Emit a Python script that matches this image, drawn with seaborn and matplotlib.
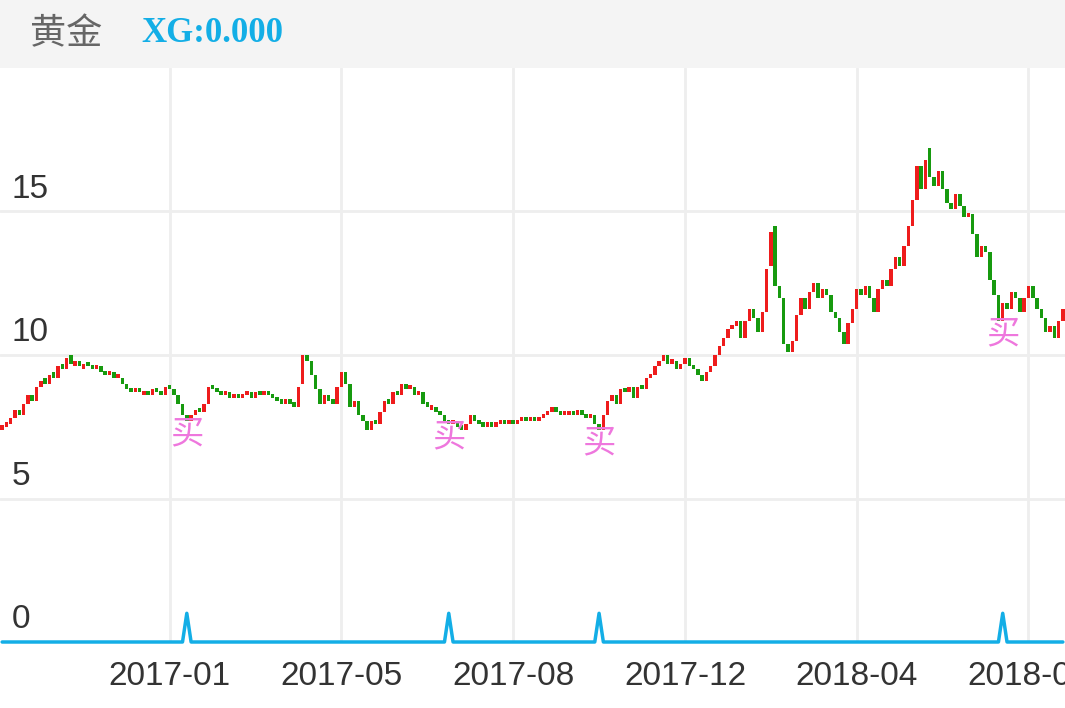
import matplotlib.pyplot as plt
import matplotlib.patches as mpatches
import seaborn as sns
import numpy as np
import pandas as pd

# 黄金 日K
closes = [
    7.5, 7.6, 7.8, 8.1, 7.9, 8.3, 8.6, 8.4, 8.9, 9.1, 9.0, 9.3, 9.2, 9.6, 9.5, 9.9, 9.7, 9.8, 9.6, 9.7,
    9.6, 9.5, 9.6, 9.4, 9.3, 9.4, 9.2, 9.2, 9.0, 8.8, 8.7, 8.8, 8.7, 8.7, 8.6, 8.8, 8.7, 8.6, 8.9, 8.8,
    8.6, 8.3, 7.9, 7.7, 7.9, 8.1, 8.0, 8.3, 8.9, 8.8, 8.7, 8.6, 8.7, 8.5, 8.6, 8.5, 8.6, 8.7, 8.5, 8.7,
    8.6, 8.7, 8.6, 8.5, 8.4, 8.3, 8.4, 8.3, 8.2, 8.9, 10.0, 9.8, 9.3, 8.8, 8.3, 8.6, 8.4, 8.3, 8.9, 9.4,
    9.0, 8.2, 8.4, 7.9, 7.7, 7.4, 7.7, 7.6, 8.0, 8.4, 8.3, 8.7, 8.6, 9.0, 8.8, 8.9, 8.6, 8.7, 8.3, 8.2,
    8.2, 8.0, 7.9, 7.7, 7.6, 7.7, 7.5, 7.4, 7.6, 7.9, 7.7, 7.6, 7.5, 7.6, 7.5, 7.6, 7.7, 7.6, 7.7, 7.6,
    7.7, 7.8, 7.7, 7.8, 7.7, 7.8, 7.9, 8.0, 8.2, 8.0, 7.9, 7.9, 8.0, 7.9, 8.1, 7.9, 7.8, 7.9, 7.6, 7.4,
    7.9, 8.4, 8.6, 8.3, 8.8, 8.7, 8.9, 8.5, 8.9, 8.8, 9.2, 9.3, 9.6, 9.8, 10.0, 9.7, 9.8, 9.5, 9.7, 9.9,
    9.6, 9.5, 9.3, 9.1, 9.4, 9.6, 10.0, 10.3, 10.6, 10.9, 11.0, 11.2, 10.6, 11.2, 11.6, 11.3, 10.8, 11.5, 13.0, 14.3,
    12.4, 12.0, 10.4, 10.1, 10.5, 11.4, 12.0, 11.6, 12.2, 12.5, 12.0, 12.3, 12.1, 11.5, 11.3, 10.8, 10.4, 11.1, 11.6, 12.3,
    12.1, 12.4, 12.0, 11.5, 12.3, 12.6, 12.4, 13.0, 13.4, 13.1, 13.8, 14.5, 15.4, 16.6, 15.8, 16.8, 16.2, 15.9, 16.4, 15.8,
    15.3, 15.1, 15.6, 15.2, 14.8, 14.9, 14.2, 13.4, 13.8, 13.6, 12.6, 12.1, 11.2, 11.8, 11.6, 12.2, 12.0, 11.5, 12.0, 12.4,
    12.0, 11.6, 11.3, 10.8, 11.0, 10.6, 11.2, 11.6,
]
opens = [
    7.4, 7.5, 7.6, 7.8, 8.1, 7.9, 8.3, 8.6, 8.4, 8.9, 9.2, 9.0, 9.4, 9.2, 9.7, 9.5, 10.0, 9.6, 9.8, 9.5,
    9.7, 9.6, 9.5, 9.6, 9.4, 9.3, 9.4, 9.2, 9.2, 9.0, 8.8, 8.7, 8.8, 8.6, 8.7, 8.6, 8.8, 8.7, 8.6, 8.9,
    8.8, 8.6, 8.3, 7.9, 7.7, 7.9, 8.1, 8.0, 8.3, 8.9, 8.8, 8.7, 8.6, 8.7, 8.5, 8.6, 8.5, 8.6, 8.7, 8.5,
    8.7, 8.6, 8.7, 8.6, 8.5, 8.4, 8.3, 8.4, 8.3, 8.2, 9.0, 10.0, 9.8, 9.3, 8.8, 8.3, 8.6, 8.4, 8.3, 8.9,
    9.4, 9.0, 8.2, 8.4, 7.9, 7.7, 7.4, 7.7, 7.6, 8.0, 8.4, 8.3, 8.7, 8.6, 9.0, 8.8, 8.9, 8.6, 8.7, 8.3,
    8.1, 8.2, 8.0, 7.9, 7.7, 7.6, 7.7, 7.5, 7.4, 7.6, 7.9, 7.7, 7.6, 7.5, 7.6, 7.5, 7.6, 7.7, 7.6, 7.7,
    7.6, 7.7, 7.8, 7.7, 7.8, 7.7, 7.8, 7.9, 8.0, 8.2, 8.0, 7.9, 7.9, 8.0, 7.9, 8.1, 7.9, 7.8, 7.9, 7.6,
    7.4, 7.9, 8.4, 8.6, 8.3, 8.8, 8.7, 8.9, 8.5, 8.9, 8.8, 9.2, 9.3, 9.6, 9.8, 10.0, 9.7, 9.8, 9.5, 9.7,
    9.9, 9.6, 9.5, 9.3, 9.1, 9.4, 9.6, 10.0, 10.3, 10.6, 10.9, 11.0, 11.2, 10.6, 11.2, 11.6, 11.3, 10.8, 11.5, 13.1,
    14.5, 12.4, 12.0, 10.4, 10.1, 10.5, 11.4, 12.0, 11.6, 12.2, 12.5, 12.0, 12.3, 12.1, 11.5, 11.3, 10.8, 10.4, 11.1, 11.6,
    12.3, 12.1, 12.4, 12.0, 11.5, 12.3, 12.6, 12.4, 13.0, 13.4, 13.1, 13.8, 14.5, 15.4, 16.6, 15.8, 17.2, 16.2, 15.9, 16.4,
    15.8, 15.3, 15.1, 15.6, 15.2, 14.8, 14.9, 14.2, 13.4, 13.8, 13.6, 12.6, 12.1, 11.2, 11.8, 11.6, 12.2, 12.0, 11.5, 12.0,
    12.4, 12.0, 11.6, 11.3, 10.8, 11.0, 10.6, 11.2,
]
buy_idx = [43, 104, 139, 233]
tick_idx = [39, 79, 119, 159, 199, 239]
tick_labels = ["2017-01", "2017-05", "2017-08", "2017-12", "2018-04", "2018-08"]
y_ticks = [0, 5, 10, 15]

sns.set_theme(style="white")
plt.rcParams['font.family'] = ['Liberation Sans', 'Noto Sans CJK SC', 'DejaVu Sans']

n = len(closes)
df = pd.DataFrame({"i": np.arange(n), "open": opens, "close": closes})
df["xg"] = 0.0
df.loc[buy_idx, "xg"] = 1.0

up_color = "#EE1C1C"
down_color = "#179A0F"
blue = "#13AEE6"

fig = plt.figure(figsize=(10.65, 7.08), dpi=100)
fig.patch.set_facecolor("white")
# 顶部标题栏
fig.patches.append(mpatches.Rectangle((0, 1 - 68 / 708), 1, 68 / 708, transform=fig.transFigure,
                                      facecolor="#F4F4F4", edgecolor="none", zorder=0))
fig.text(30 / 1065, 1 - 34 / 708, "黄金", fontsize=26, color="#666666", va="center",
         family=['Noto Sans CJK SC', 'DejaVu Sans'])
fig.text(141 / 1065, 1 - 34 / 708, "XG:0.000", fontsize=25, color=blue, va="center",
         fontweight="bold", family=['Liberation Serif', 'DejaVu Serif'])

ax = fig.add_axes([0, 1 - 642 / 708, 1, (642 - 68) / 708])
ax.set_xlim(-0.5, n - 0.5)
ax.set_ylim(0, 20)

# 网格
for t in tick_idx:
    ax.axvline(t, color="#EEEEEE", lw=2, zorder=0)
for v in y_ticks[1:]:
    ax.axhline(v, color="#EEEEEE", lw=2, zorder=0)

# K线
up = df["close"] >= df["open"]
bottoms = np.minimum(df["open"], df["close"])
heights = np.abs(df["close"] - df["open"]).clip(lower=0.15)
ax.bar(df["i"], heights, bottom=bottoms, width=0.8,
       color=np.where(up, up_color, down_color), linewidth=0, zorder=2)

# 买点
for b in buy_idx:
    ax.text(b, min(opens[b], closes[b]) + 0.15, "买", fontsize=24, color="#EE77DD", ha="center", va="top",
            family=['Noto Sans CJK SC', 'DejaVu Sans'], zorder=3)

# XG 信号线
sns.lineplot(data=df, x="i", y="xg", ax=ax, color=blue, lw=2.5, clip_on=False, zorder=4)

# 坐标文字
for v in y_ticks:
    ax.text(12 / 1065, v / 20 + 0.012, str(v), transform=ax.transAxes, fontsize=24, color="#333333",
            va="bottom", ha="left")
ax.set_xticks(tick_idx)
ax.set_xticklabels(tick_labels, fontsize=24, color="#333333")
ax.tick_params(axis="x", length=0, pad=14)
ax.set_yticks([])
ax.set_xlabel("")
ax.set_ylabel("")
sns.despine(ax=ax, left=True, bottom=True, top=True, right=True)

fig.savefig("out.png", dpi=100)
